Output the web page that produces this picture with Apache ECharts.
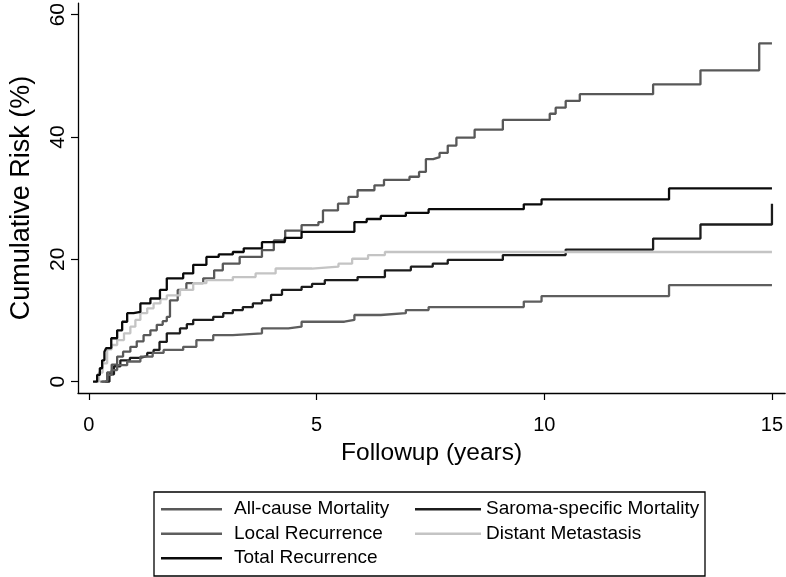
<!DOCTYPE html>
<html>
<head>
<meta charset="utf-8">
<script src="https://cdn.jsdelivr.net/npm/echarts@6/dist/echarts.min.js"></script>
<style>html,body{margin:0;padding:0;background:#fff}#c{width:786px;height:577px}</style>
</head>
<body>
<div id="c"></div>
<script>
// Tick values
const xTicks = [0, 5, 10, 15];
const yTicks = [0, 20, 40, 60];

// Series names
const names = ['All-cause Mortality', 'Saroma-specific Mortality', 'Local Recurrence', 'Distant Metastasis', 'Total Recurrence'];

// [years, cumulative risk %] step points
const allCause = [[0.25,0],[0.4,1.5],[0.5,2.8],[0.62,4.1],[0.75,4.9],[0.91,5.7],[1.05,6.6],[1.2,7.6],[1.35,8.4],[1.49,9.3],[1.62,9.9],[1.71,10.6],[1.78,13.3],[1.95,15.0],[2.14,16.1],[2.51,16.9],[2.75,18.2],[2.94,19.3],[3.31,20.4],[3.8,21.5],[4.06,23.1],[4.31,24.7],[4.67,25.6],[5.04,26.1],[5.14,28.0],[5.47,29.1],[5.7,30.2],[5.9,31.3],[6.27,32.1],[6.48,33.0],[7.04,33.5],[7.25,34.3],[7.4,36.4],[7.56,36.7],[7.7,37.4],[7.88,38.6],[8.07,39.9],[8.47,41.2],[9.09,42.8],[10.12,43.8],[10.25,44.8],[10.47,45.9],[10.78,47.0],[12.39,48.6],[13.43,50.9],[14.72,55.3],[15.0,55.3]];
const sarcoma = [[0.36,0],[0.45,1.2],[0.55,2.5],[0.69,3.5],[0.9,3.9],[1.13,4.2],[1.28,4.7],[1.42,5.2],[1.55,6.5],[1.71,7.9],[2.0,8.7],[2.15,9.4],[2.29,10.1],[2.73,10.6],[2.95,11.2],[3.16,11.7],[3.38,12.2],[3.6,12.8],[3.8,13.3],[4.0,14.2],[4.24,15.0],[4.67,15.5],[4.9,16.0],[5.18,16.6],[5.9,17.1],[6.5,18.2],[7.07,18.8],[7.55,19.3],[7.88,19.9],[9.09,20.7],[10.47,21.6],[12.39,23.4],[13.43,25.7],[15.0,29.1]];
const localRec = [[0.29,0],[0.4,1.1],[0.5,1.9],[0.62,2.7],[0.84,3.3],[1.13,4.1],[1.4,4.7],[1.64,5.2],[2.07,5.7],[2.36,6.8],[2.73,7.6],[3.16,7.9],[3.8,8.7],[4.38,9.0],[4.67,9.8],[5.61,10.1],[5.83,10.9],[6.41,11.2],[6.96,11.7],[7.46,12.2],[9.55,13.1],[9.94,14.0],[12.74,15.8],[15.0,15.8]];
const distant = [[0.12,0],[0.22,1.5],[0.3,3.0],[0.4,5.3],[0.5,6.0],[0.62,6.8],[0.77,7.9],[0.91,9.0],[1.02,10.1],[1.13,11.2],[1.28,12.0],[1.42,12.8],[1.57,13.5],[1.71,14.1],[2.0,15.0],[2.29,16.1],[2.58,16.6],[3.16,17.1],[3.66,17.7],[4.1,18.5],[4.9,18.8],[5.48,19.3],[5.78,20.1],[6.13,20.7],[6.5,21.2],[15.0,21.2]];
const totalRec = [[0.09,0],[0.18,1.1],[0.24,2.2],[0.29,3.5],[0.34,4.9],[0.38,5.5],[0.49,7.1],[0.62,8.4],[0.73,9.8],[0.84,11.2],[0.98,11.4],[1.13,12.8],[1.35,13.6],[1.56,15.0],[1.71,16.9],[2.07,17.7],[2.29,19.1],[2.58,20.4],[2.85,20.8],[3.16,21.2],[3.4,21.8],[3.8,22.8],[4.3,23.5],[4.67,24.5],[5.83,26.1],[6.1,26.6],[6.41,27.1],[6.96,27.6],[7.46,28.2],[9.55,29.0],[9.94,29.8],[12.74,31.6],[15.0,31.6]];

const seriesData = [allCause, sarcoma, localRec, distant, totalRec];
const colors = ['#585858', '#1c1c1c', '#5e5e5e', '#c4c4c4', '#0a0a0a'];

const FONT = "'Liberation Sans', Arial, sans-serif";
const chart = echarts.init(document.getElementById('c'), null, {renderer: 'canvas'});

const legendCommon = {
  orient: 'vertical', top: 497, padding: 0, icon: 'rect',
  itemHeight: 2.5, itemGap: 0
};

const option = {
  animation: false,
  backgroundColor: '#fff',
  textStyle: {fontFamily: FONT},
  grid: {left: 74, top: 3, right: 0, bottom: 184, containLabel: false},
  xAxis: {
    type: 'value', min: -0.24, max: 15.29,
    axisLine: {show: true, onZero: false, lineStyle: {color: '#000', width: 1.3}},
    axisTick: {show: true, length: 7, customValues: xTicks, lineStyle: {color: '#000', width: 1.2}},
    axisLabel: {customValues: xTicks, fontSize: 20, margin: 22, color: '#000', fontFamily: FONT},
    splitLine: {show: false},
    name: 'Followup (years)', nameLocation: 'middle', nameGap: 48,
    nameTextStyle: {fontSize: 24.5, color: '#000', fontFamily: FONT}
  },
  yAxis: {
    type: 'value', min: -1.85, max: 61.9,
    axisLine: {show: true, onZero: false, lineStyle: {color: '#000', width: 1.3}},
    axisTick: {show: true, length: 7, customValues: yTicks, lineStyle: {color: '#000', width: 1.2}},
    axisLabel: {customValues: yTicks, fontSize: 21, margin: 9, rotate: 90, color: '#000', fontFamily: FONT},
    splitLine: {show: false},
    name: 'Cumulative Risk (%)', nameLocation: 'middle', nameGap: 43, nameRotate: 90,
    nameTextStyle: {fontSize: 27, color: '#000', fontFamily: FONT}
  },
  legend: [
    Object.assign({}, legendCommon, {
      data: [names[0], names[2], names[4]], left: 161, itemWidth: 61,
      textStyle: {fontSize: 19, lineHeight: 24.5, color: '#000', padding: [0, 0, 0, 7], fontFamily: FONT}
    }),
    Object.assign({}, legendCommon, {
      data: [names[1], names[3]], left: 415, itemWidth: 66,
      textStyle: {fontSize: 19, lineHeight: 24.5, color: '#000', fontFamily: FONT}
    })
  ],
  graphic: [{
    type: 'rect', shape: {x: 154, y: 492, width: 551, height: 84},
    style: {fill: 'none', stroke: '#000', lineWidth: 1.3}, silent: true
  }],
  series: seriesData.map((d, i) => ({
    name: names[i], type: 'line', step: 'end', data: d,
    symbol: 'none', showSymbol: false, color: colors[i],
    lineStyle: {color: colors[i], width: 2.3},
    z: 2 + i
  }))
};
chart.setOption(option);
</script>
</body>
</html>
